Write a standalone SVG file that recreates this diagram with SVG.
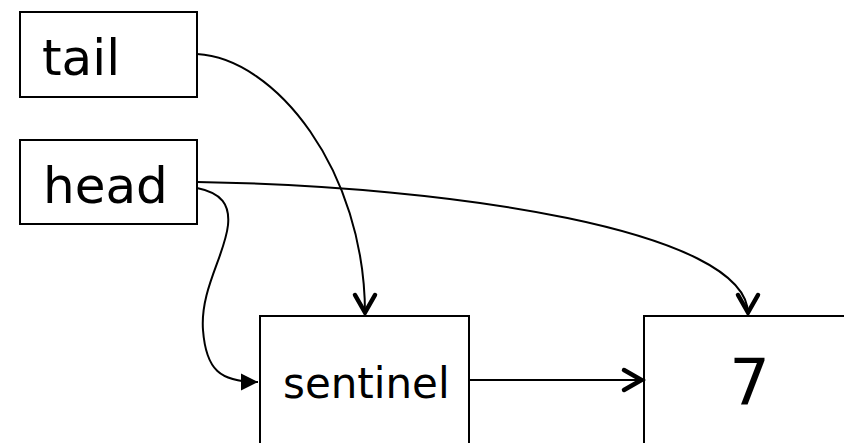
<svg xmlns="http://www.w3.org/2000/svg" width="844" height="443" viewBox="0 0 844 443">
<defs>
<style>
.box{fill:#fff;stroke:#000;stroke-width:2}
.lbl{font-family:"DejaVu Sans",sans-serif;fill:#000}
.conn{fill:none;stroke:#000;stroke-width:2}
</style>
<marker id="vee" markerWidth="30" markerHeight="30" viewBox="-25 -15 30 30" refX="0" refY="0" orient="auto" markerUnits="userSpaceOnUse">
<path d="M-19,-10 L-1.5,0 L-19,10" fill="none" stroke="#000" stroke-width="4.5" stroke-linecap="round" stroke-linejoin="miter"/>
</marker>
<marker id="tri" markerWidth="24" markerHeight="24" viewBox="-22 -12 24 24" refX="0" refY="0" orient="auto" markerUnits="userSpaceOnUse">
<path d="M-17,-8.5 L0,0 L-17,8.5 Z" fill="#000"/>
</marker>
</defs>
<g id="tail">
<rect class="box" x="20" y="12" width="177" height="85"/>
<text class="lbl" x="42" y="75" font-size="50">tail</text>
</g>
<g id="head">
<rect class="box" x="20" y="140" width="177" height="84"/>
<text class="lbl" x="43" y="203" font-size="50">head</text>
</g>
<g id="sentinel">
<rect class="box" x="260" y="316" width="209" height="140"/>
<text class="lbl" x="283" y="398" font-size="42">sentinel</text>
</g>
<g id="node7">
<rect class="box" x="644" y="316" width="220" height="140"/>
<text class="lbl" x="749.5" y="405" font-size="64" text-anchor="middle">7</text>
</g>
<g id="connectors">
<path class="conn" d="M197,54 C275,58 365,170 365,314" marker-end="url(#vee)"/>
<path class="conn" d="M197,182 C450,186 748,230 748,314" marker-end="url(#vee)"/>
<path class="conn" d="M197,188 C222,193 230,205 228,225 C225,255 200,290 203,330 C206,370 220,382 258,382" stroke-width="2.5" marker-end="url(#tri)"/>
<path class="conn" d="M469,380 L643,380" marker-end="url(#vee)"/>
</g>
</svg>
